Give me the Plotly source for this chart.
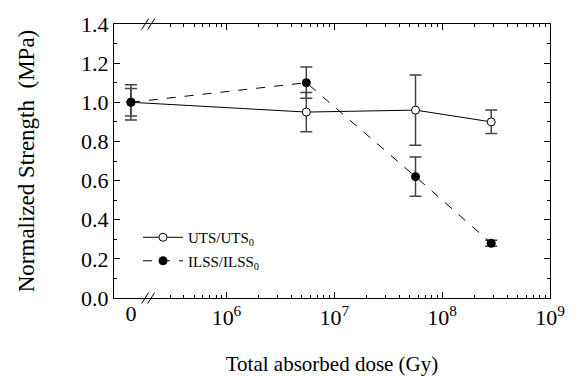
import plotly.graph_objects as go

# ---- data ----
dose = [0, 5.5e6, 5.66e7, 2.85e8]            # Gy (0 = unirradiated)
uts = [1.00, 0.95, 0.96, 0.90]
uts_err = [0.09, 0.10, 0.18, 0.06]
ilss = [1.00, 1.10, 0.62, 0.28]
ilss_err = [0.07, 0.08, 0.10, 0.015]
major_ticks = [1e6, 1e7, 1e8, 1e9]
major_labels = ["10<sup>6</sup>", "10<sup>7</sup>", "10<sup>8</sup>", "10<sup>9</sup>"]

ZERO_POS = 1.3e5   # where the "0" dose sits on the broken log axis
xplot = [ZERO_POS if d == 0 else d for d in dose]

minor_vals = [m * 10 ** e for e in range(5, 9) for m in range(2, 10) if m * 10 ** e > 2.5e5]

FONT = "Liberation Serif, Times New Roman, serif"
W, H = 579, 376
L, R, T, B = 114, 29, 24, 78
PW, PH = W - L - R, H - T - B

def px(x):
    return (x - L) / PW

def py(y):
    return (H - B - y) / PH

fig = go.Figure()
fig.add_trace(go.Scatter(
    x=xplot, y=uts, mode="lines+markers", name="UTS/UTS<sub>0</sub>", legendgroup="a",
    line=dict(color="black", width=1),
    marker=dict(symbol="circle", size=8, color="white", line=dict(color="black", width=1)),
    error_y=dict(type="data", array=uts_err, visible=True, color="#444", thickness=1.5, width=6),
))
fig.add_trace(go.Scatter(
    x=xplot, y=ilss, mode="lines+markers", name="ILSS/ILSS<sub>0</sub>", legendgroup="b",
    line=dict(color="black", width=1, dash="dash"),
    marker=dict(symbol="circle", size=9, color="black"),
    error_y=dict(type="data", array=ilss_err, visible=True, color="#444", thickness=1.5, width=6),
))

xr = [4.957, 9.0]
fig.update_layout(
    width=W, height=H, margin=dict(l=L, r=R, t=T, b=B),
    paper_bgcolor="white", plot_bgcolor="white",
    font=dict(family=FONT, color="black"),
    showlegend=True,
    legend=dict(x=px(138), y=py(221), xanchor="left", yanchor="top",
                font=dict(family=FONT, size=15), bgcolor="rgba(0,0,0,0)",
                tracegroupgap=1, itemwidth=40),
    xaxis=dict(
        type="log", range=xr, showgrid=False, zeroline=False, automargin=False,
        showline=True, linecolor="black", linewidth=1, mirror="ticks",
        ticks="inside", ticklen=6, tickcolor="black",
        tickvals=major_ticks, ticktext=major_labels,
        tickfont=dict(family=FONT, size=22),
        minor=dict(tickvals=minor_vals, ticks="inside", ticklen=3, tickcolor="black", showgrid=False),
        title=dict(text="Total absorbed dose (Gy)", font=dict(family=FONT, size=21), standoff=26),
    ),
    xaxis2=dict(
        type="log", range=xr, overlaying="x", side="bottom", anchor="y", automargin=False,
        showgrid=False, zeroline=False, showline=False, ticks="",
        tickvals=[ZERO_POS], ticktext=["0"], tickfont=dict(family=FONT, size=22),
    ),
    yaxis=dict(
        range=[0, 1.4], dtick=0.2, tickformat=".1f", showgrid=False, zeroline=False, automargin=False,
        showline=True, linecolor="black", linewidth=1, mirror="ticks",
        ticks="inside", ticklen=6, tickcolor="black",
        tickfont=dict(family=FONT, size=22),
        minor=dict(dtick=0.1, ticks="inside", ticklen=3, tickcolor="black", showgrid=False),
        title=dict(text="Normalized Strength  (MPa)", font=dict(family=FONT, size=23), standoff=40),
    ),
)
# invisible helper trace to activate xaxis2 for the "0" label
fig.add_trace(go.Scatter(x=[ZERO_POS], y=[None], xaxis="x2", showlegend=False, hoverinfo="skip"))

# axis-break marks (//) on bottom and top axis
for yc in (H - B, T):
    for x0 in (141.7, 147.7):
        fig.add_shape(type="line", xref="paper", yref="paper",
                      x0=px(x0), y0=py(yc + 5.5), x1=px(x0 + 7), y1=py(yc - 5.5),
                      line=dict(color="black", width=1))

fig.write_html("out.html")
